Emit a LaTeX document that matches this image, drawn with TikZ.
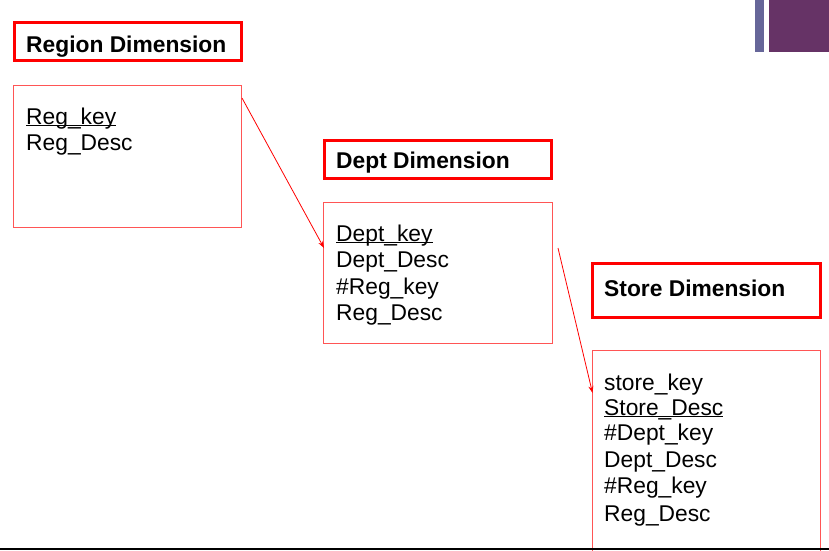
\documentclass[tikz,border=0pt]{standalone}
\usepackage{fontspec}
\setmainfont{Liberation Sans}
\usetikzlibrary{arrows.meta}
\definecolor{titlered}{HTML}{FF0000}
\definecolor{boxred}{HTML}{FF5555}
\definecolor{barblue}{HTML}{666699}
\definecolor{barpurple}{HTML}{663366}
\definecolor{baseline}{HTML}{333333}
\newcommand\myul[1]{\leavevmode\setbox0\hbox{#1}\rlap{\rule[-2.4pt]{\wd0}{1.4pt}}\box0}
\tikzset{
  titlebox/.style={draw=titlered, line width=3pt, rectangle, inner sep=0pt, outer sep=0pt, anchor=north west},
  fieldbox/.style={draw=boxred, line width=1pt, rectangle, inner sep=0pt, outer sep=0pt, anchor=north west},
  titletext/.style={font=\fontsize{22.8}{26}\selectfont\bfseries, inner sep=0pt, anchor=base west},
  fieldtext/.style={font=\fontsize{22.8}{26}\selectfont, inner sep=0pt, anchor=base west},
  link/.style={draw=titlered, line width=0.8pt, -{Stealth[length=7pt,width=5pt]}},
}
\begin{document}
\begin{tikzpicture}[x=1pt,y=-1pt]
\useasboundingbox (0,0) rectangle (829,550);
% top right bars
\fill[barblue] (755,0) rectangle (764,52);
\fill[barpurple] (769,0) rectangle (829,52);
% Region
\node[titlebox, minimum width=227pt, minimum height=38pt] (regt) at (14.5,22.5) {};
\node[titletext] (regtt) at (26,52) {Region Dimension};
\node[fieldbox, minimum width=228pt, minimum height=142pt] (regb) at (13.5,85.5) {};
\node[fieldtext] (reg1) at (26,124) {\myul{Reg\_key}};
\node[fieldtext] (reg2) at (26,150) {Reg\_Desc};
% Dept
\node[titlebox, minimum width=227pt, minimum height=38pt] (dept) at (324.5,140.5) {};
\node[titletext] (deptt) at (336,168) {Dept Dimension};
\node[fieldbox, minimum width=229pt, minimum height=141pt] (depb) at (323.5,202.5) {};
\node[fieldtext] (dep1) at (336,241) {\myul{Dept\_key}};
\node[fieldtext] (dep2) at (336,267) {Dept\_Desc};
\node[fieldtext] (dep3) at (336,294) {\#Reg\_key};
\node[fieldtext] (dep4) at (336,320) {Reg\_Desc};
% Store
\node[titlebox, minimum width=228pt, minimum height=54pt] (stot) at (592.5,263.5) {};
\node[titletext] (stott) at (604,296) {Store Dimension};
\node[fieldbox, minimum width=228pt, minimum height=220pt] (stob) at (592.5,350.5) {};
\node[fieldtext] (sto1) at (604,390) {store\_key};
\node[fieldtext] (sto2) at (604,415) {\myul{Store\_Desc}};
\node[fieldtext] (sto3) at (604,440) {\#Dept\_key};
\node[fieldtext] (sto4) at (604,467.5) {Dept\_Desc};
\node[fieldtext] (sto5) at (604,493) {\#Reg\_key};
\node[fieldtext] (sto6) at (604,521) {Reg\_Desc};
% connectors
\coordinate (a1s) at (242,98);
\coordinate (a1e) at (324,248);
\coordinate (a2s) at (558,248);
\coordinate (a2e) at (592.5,393);
\draw[link] (a1s) -- (a1e);
\draw[link] (a2s) -- (a2e);
% bottom line
\fill[baseline] (0,547.5) rectangle (829,550);
\end{tikzpicture}
\end{document}
